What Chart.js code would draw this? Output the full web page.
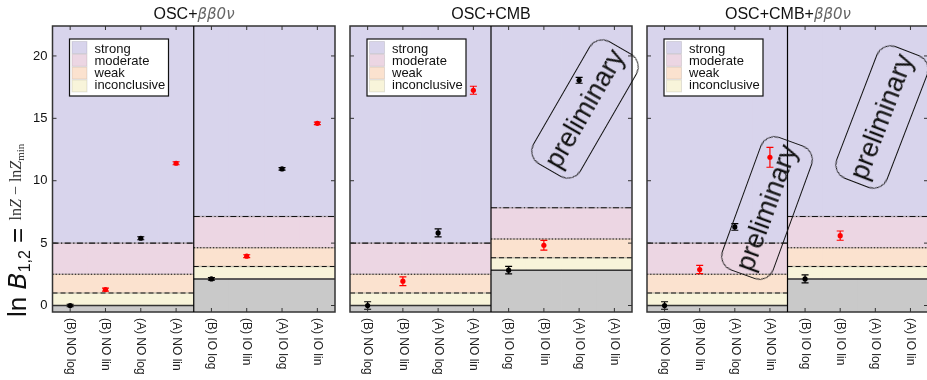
<!DOCTYPE html>
<html>
<head>
<meta charset="utf-8">
<script src="https://cdn.jsdelivr.net/npm/chart.js@4.4.1/dist/chart.umd.min.js"></script>
<style>
  html, body { margin: 0; padding: 0; background: #fff; overflow: hidden; }
  #wrap { position: relative; width: 927px; height: 380px; overflow: hidden; font-family: "Liberation Sans", Arial, sans-serif; color: #111; }
  canvas { position: absolute; top: 0; }
  .title { position: absolute; top: 6px; font-size: 16px; line-height: 16px; transform: translateX(-50%); white-space: nowrap; }
  .title i { font-family: "DejaVu Sans", sans-serif; font-style: oblique; color: #666; font-size: 15px; }
  .ylabel { position: absolute; left: 4px; top: 317px; transform-origin: 0 0; transform: rotate(-90deg); white-space: nowrap; font-size: 26px; line-height: 27px; color: #111; }
  .ylabel .b { font-family: "DejaVu Sans", sans-serif; font-style: oblique; font-size: 25px; }
  .ylabel sub { font-size: 16px; vertical-align: -4px; line-height: 0; }
  .ylabel .small { font-family: "Liberation Serif", serif; font-size: 16px; vertical-align: 5px; line-height: 0; color: #333; }
  .ylabel .small sub { font-size: 11px; vertical-align: -3px; }
  .stamp { position: absolute; width: 142px; height: 55px; box-sizing: border-box; border: 1.3px solid #111; border-radius: 15px; display: flex; align-items: center; justify-content: center; font-size: 27px; color: #111; white-space: nowrap; }
</style>
</head>
<body>
<div id="wrap">
  <canvas id="p1" width="340" height="380" style="left:0px"></canvas>
  <canvas id="p2" width="300" height="380" style="left:340px"></canvas>
  <canvas id="p3" width="292" height="380" style="left:640px"></canvas>

  <div class="title" style="left:194px">OSC+<i>ββ0ν</i></div>
  <div class="title" style="left:491px">OSC+CMB</div>
  <div class="title" style="left:788px">OSC+CMB+<i>ββ0ν</i></div>

  <div class="ylabel">ln <span class="b">B</span><sub>1,2</sub> = <span class="small">ln<i>Z</i> − ln<i>Z</i><sub>min</sub></span></div>

  <div class="stamp" style="left:585px; top:109px; transform:translate(-50%,-50%) rotate(-60deg)">preliminary</div>
  <div class="stamp" style="left:767px; top:208px; transform:translate(-50%,-50%) rotate(-70deg)">preliminary</div>
  <div class="stamp" style="left:882px; top:117px; transform:translate(-50%,-50%) rotate(-69deg)">preliminary</div>
</div>

<script>
// data
const categories = ['(B) NO log', '(B) NO lin', '(A) NO log', '(A) NO lin',
                    '(B) IO log', '(B) IO lin', '(A) IO log', '(A) IO lin'];

const oscBbValues = [0.0, 1.28, 5.39, 11.4, 2.13, 3.95, 10.95, 14.6];
const oscBbErrors = [0.1, 0.12, 0.12, 0.12, 0.1, 0.12, 0.1, 0.1];

const oscCmbValues = [0.0, 1.95, 5.82, 17.25, 2.83, 4.83, 18.05, null];
const oscCmbErrors = [0.3, 0.35, 0.32, 0.32, 0.3, 0.39, 0.24, null];

const oscCmbBbValues = [0.0, 2.88, 6.3, 11.88, 2.13, 5.6, null, null];
const oscCmbBbErrors = [0.3, 0.33, 0.27, 0.8, 0.32, 0.37, null, null];

// Jeffreys scale: thresholds above the baseline of each ordering
const evidenceLabels = ['strong', 'moderate', 'weak', 'inconclusive'];
const evidenceSteps = [1, 2.5, 5];
const yTicks = [0, 5, 10, 15, 20];
const Y_MIN = -0.52, Y_MAX = 22.4;

Chart.defaults.font.family = '"Liberation Sans", Arial, sans-serif';

const bandColors = {
  below: '#c9c9c9',
  inconclusive: '#f8f4da',
  weak: '#fbe2cf',
  moderate: '#ecd6e3',
  strong: '#d8d4ec'
};
const markerColors = ['#000', '#f00', '#000', '#f00', '#000', '#f00', '#000', '#f00'];

function makeDecor(values, errors) {
  return {
    id: 'decor',
    beforeDatasetDraw(chart, args) {
      if (args.meta.type !== 'line') return;
      const { ctx, chartArea: a, scales: { x, y } } = chart;
      const mid = (x.getPixelForValue(3) + x.getPixelForValue(4)) / 2;
      const halves = [[a.left, mid, 0], [mid, a.right, values[4]]];
      const dashes = [[], [5, 3], [1.2, 2], [6, 2.5, 1.2, 2.5]];
      ctx.save();
      ctx.beginPath();
      ctx.rect(a.left, a.top, a.width, a.height);
      ctx.clip();
      halves.forEach(([x0, x1, base]) => {
        [0].concat(evidenceSteps).forEach((s, k) => {
          const yy = y.getPixelForValue(base + s);
          if (k > 0) {
            ctx.setLineDash([]);
            ctx.strokeStyle = 'rgba(80,80,80,0.3)';
            ctx.lineWidth = 1.6;
            ctx.beginPath(); ctx.moveTo(x0, yy); ctx.lineTo(x1, yy); ctx.stroke();
          }
          ctx.setLineDash(dashes[k]);
          ctx.strokeStyle = k === 0 ? '#333' : '#111';
          ctx.lineWidth = k === 0 ? 1.5 : 1.1;
          ctx.beginPath(); ctx.moveTo(x0, yy); ctx.lineTo(x1, yy); ctx.stroke();
        });
      });
      ctx.setLineDash([]);
      // error bars
      values.forEach((v, i) => {
        if (v == null) return;
        const px = x.getPixelForValue(i);
        const y0 = y.getPixelForValue(v - errors[i]);
        const y1 = y.getPixelForValue(v + errors[i]);
        ctx.strokeStyle = markerColors[i];
        ctx.lineWidth = 1.2;
        ctx.beginPath();
        ctx.moveTo(px, y0); ctx.lineTo(px, y1);
        ctx.moveTo(px - 3.5, y0); ctx.lineTo(px + 3.5, y0);
        ctx.moveTo(px - 3.5, y1); ctx.lineTo(px + 3.5, y1);
        ctx.stroke();
      });
      ctx.restore();
    },
    afterDraw(chart) {
      const { ctx, chartArea: a, scales: { x, y } } = chart;
      const mid = (x.getPixelForValue(3) + x.getPixelForValue(4)) / 2;
      ctx.save();
      // frame and divider
      ctx.strokeStyle = '#333';
      ctx.lineWidth = 1.5;
      ctx.strokeRect(a.left, a.top, a.width, a.height);
      ctx.strokeStyle = '#000';
      ctx.lineWidth = 1.2;
      ctx.beginPath(); ctx.moveTo(mid, a.top); ctx.lineTo(mid, a.bottom); ctx.stroke();
      // inward ticks
      ctx.strokeStyle = '#333';
      ctx.lineWidth = 1;
      ctx.beginPath();
      yTicks.forEach(t => {
        const py = y.getPixelForValue(t);
        ctx.moveTo(a.left, py); ctx.lineTo(a.left + 4, py);
        ctx.moveTo(a.right, py); ctx.lineTo(a.right - 4, py);
      });
      categories.forEach((c, i) => {
        const px = x.getPixelForValue(i);
        ctx.moveTo(px, a.bottom); ctx.lineTo(px, a.bottom - 4);
        ctx.moveTo(px, a.top); ctx.lineTo(px, a.top + 4);
      });
      ctx.stroke();
      // legend
      const bx = a.left + 17, by = a.top + 13, bw = 99, bh = 57;
      ctx.fillStyle = '#fff';
      ctx.fillRect(bx, by, bw, bh);
      ctx.strokeStyle = '#111';
      ctx.lineWidth = 1.2;
      ctx.strokeRect(bx, by, bw, bh);
      ctx.font = '13px "Liberation Sans"';
      ctx.textAlign = 'left';
      ctx.textBaseline = 'alphabetic';
      evidenceLabels.forEach((lab, i) => {
        ctx.fillStyle = bandColors[lab];
        ctx.fillRect(bx + 2.5, by + 2.5 + i * 12.8, 15, 12);
        ctx.strokeStyle = 'rgba(0,0,0,0.1)';
        ctx.lineWidth = 1;
        ctx.strokeRect(bx + 2.5, by + 2.5 + i * 12.8, 15, 12);
        ctx.fillStyle = '#111';
        ctx.fillText(lab, bx + 25, by + 13.5 + i * 12);
      });
      // rotated category labels
      ctx.font = '12px "Liberation Sans"';
      ctx.fillStyle = '#222';
      ctx.textBaseline = 'middle';
      categories.forEach((c, i) => {
        ctx.save();
        ctx.translate(x.getPixelForValue(i), a.bottom + 6);
        ctx.rotate(Math.PI / 2);
        ctx.fillText(c, 0, 0);
        ctx.restore();
      });
      ctx.restore();
    }
  };
}

function makePanel(id, values, errors, pad, yWidth, showYLabels) {
  const base = categories.map((c, i) => (i < 4 ? 0 : values[4]));
  const band = (label, lo, hi, color) => ({
    label: label,
    data: base.map(b => [lo(b), hi(b)]),
    backgroundColor: color,
    borderWidth: 0,
    barPercentage: 1,
    categoryPercentage: 1,
    grouped: false,
    order: 1
  });
  new Chart(document.getElementById(id), {
    type: 'bar',
    data: {
      labels: categories,
      datasets: [
        band('below', b => Y_MIN, b => b, bandColors.below),
        band('inconclusive', b => b, b => b + evidenceSteps[0], bandColors.inconclusive),
        band('weak', b => b + evidenceSteps[0], b => b + evidenceSteps[1], bandColors.weak),
        band('moderate', b => b + evidenceSteps[1], b => b + evidenceSteps[2], bandColors.moderate),
        band('strong', b => b + evidenceSteps[2], b => Y_MAX, bandColors.strong),
        {
          type: 'line',
          label: 'ln B',
          data: values,
          showLine: false,
          pointRadius: 2.6,
          pointBorderWidth: 0,
          pointBackgroundColor: markerColors,
          order: 0
        }
      ]
    },
    options: {
      responsive: false,
      animation: false,
      events: [],
      layout: { padding: pad },
      plugins: { legend: { display: false }, tooltip: { enabled: false } },
      scales: {
        x: {
          offset: true,
          grid: { display: false, drawTicks: false },
          border: { display: false },
          ticks: { display: false },
          afterFit: s => { s.height = 0; }
        },
        y: {
          min: Y_MIN,
          max: Y_MAX,
          grid: { display: false, drawTicks: false },
          border: { display: false },
          ticks: { display: showYLabels, padding: 5, color: '#111', font: { size: 13 } },
          afterBuildTicks: s => { s.ticks = yTicks.map(v => ({ value: v })); },
          afterFit: s => { s.width = yWidth; }
        }
      }
    },
    plugins: [makeDecor(values, errors)]
  });
}

makePanel('p1', oscBbValues, oscBbErrors, { left: 0, right: 5, top: 26, bottom: 68 }, 52.5, true);
makePanel('p2', oscCmbValues, oscCmbErrors, { left: 10, right: 8, top: 26, bottom: 68 }, 0, false);
makePanel('p3', oscCmbBbValues, oscCmbBbErrors, { left: 7, right: 3, top: 26, bottom: 68 }, 0, false);
</script>
</body>
</html>
